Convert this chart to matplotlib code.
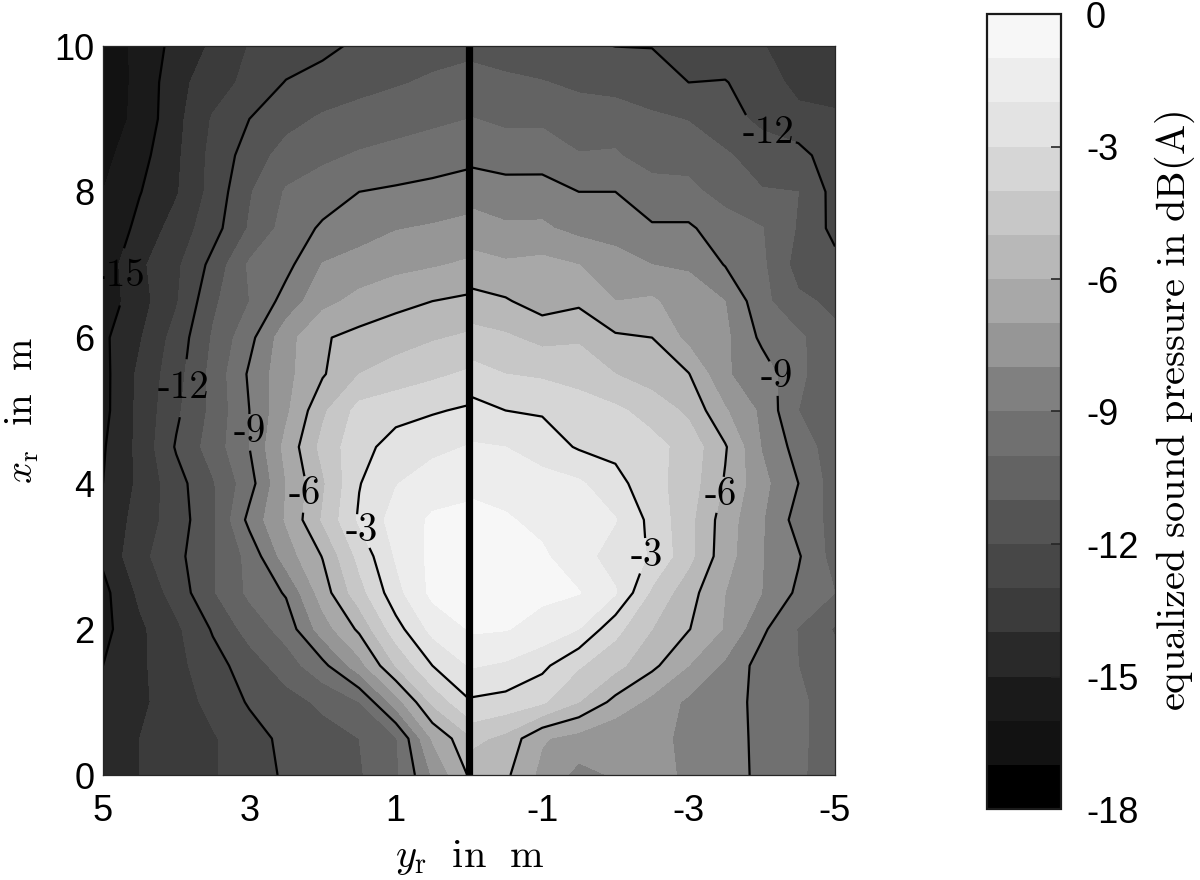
# Equalized sound pressure map, values on a 0.5 m grid
import numpy as np
import matplotlib
matplotlib.use('Agg')
import matplotlib.pyplot as plt
from matplotlib.colors import ListedColormap, BoundaryNorm

plt.rcParams['font.family'] = ['Liberation Sans', 'DejaVu Sans']
plt.rcParams['mathtext.fontset'] = 'cm'

# receiver positions in m
x_r = [0, 0.5, 1, 1.5, 2, 2.5, 3, 3.5, 4, 4.5, 5, 5.5, 6, 6.5, 7, 7.5, 8, 8.5, 9, 9.5, 10]
y_left = [5, 4.5, 4, 3.5, 3, 2.5, 2, 1.5, 1, 0.5, 0]
y_right = [0, -0.5, -1, -1.5, -2, -2.5, -3, -3.5, -4, -4.5, -5]

# dB(A) for y_r > 0, one row per x_r
spl_left = [
    [-14.4, -14.0, -13.4, -13.1, -12.5, -11.85, -11.5, -11.1, -10.2, -7.9, -5.9],
    [-14.5, -14.0, -13.5, -13.1, -12.4, -11.75, -11.4, -11.0, -10.1, -6.9, -5.2],
    [-14.6, -14.2, -13.5, -12.7, -11.9, -11.4, -10.8, -10.0, -7.5, -4.8, -3.1],
    [-15.0, -14.2, -13.3, -12.4, -11.5, -10.5, -9.3, -7.4, -4.95, -3.0, -1.95],
    [-15.3, -14.2, -13.2, -11.9, -10.6, -9.6, -7.5, -5.8, -3.4, -1.7, -0.95],
    [-15.3, -13.8, -12.6, -11.1, -9.8, -8.9, -6.5, -4.4, -2.35, -0.75, -0.65],
    [-14.8, -13.3, -12.3, -11.1, -9.7, -7.5, -5.95, -3.7, -1.9, -0.75, -0.6],
    [-14.8, -13.6, -12.5, -11.2, -8.7, -6.9, -4.9, -2.85, -1.6, -0.85, -0.75],
    [-15.0, -13.8, -12.4, -11.1, -9.4, -7.0, -5.15, -3.05, -2.05, -1.5, -1.25],
    [-15.1, -13.75, -11.9, -10.55, -9.0, -6.7, -4.7, -3.3, -2.65, -2.25, -1.95],
    [-15.3, -13.75, -12.2, -10.75, -9.0, -7.2, -5.2, -3.65, -3.3, -3.1, -2.85],
    [-15.3, -13.8, -12.4, -10.7, -8.85, -7.3, -6.1, -5.0, -4.6, -4.2, -3.85],
    [-15.2, -14.1, -12.6, -10.9, -9.3, -7.4, -6.1, -5.7, -5.4, -5.1, -4.85],
    [-15.6, -14.4, -13.1, -11.2, -10.0, -8.6, -7.3, -6.7, -6.3, -6.0, -5.8],
    [-15.6, -14.2, -13.2, -11.7, -9.85, -9.3, -7.95, -7.6, -7.3, -7.1, -6.85],
    [-15.9, -14.7, -13.6, -12.4, -10.9, -9.6, -8.85, -8.45, -8.05, -7.9, -7.7],
    [-16.0, -15.05, -14.1, -12.65, -11.1, -9.9, -9.5, -9.0, -8.85, -8.7, -8.5],
    [-16.3, -15.35, -14.2, -12.7, -11.55, -10.6, -10.2, -9.9, -9.7, -9.5, -9.3],
    [-16.6, -15.7, -14.3, -12.9, -12.0, -11.35, -10.85, -10.6, -10.4, -10.2, -10.0],
    [-16.5, -15.8, -14.3, -13.5, -12.7, -11.95, -11.7, -11.35, -11.1, -10.85, -10.6],
    [-16.6, -15.75, -14.65, -13.85, -12.95, -12.6, -12.2, -11.85, -11.6, -11.4, -11.3],
]

# dB(A) for y_r < 0, one row per x_r
spl_right = [
    [-5.7, -5.8, -7.3, -8.3, -7.9, -7.6, -8.2, -8.6, -9.2, -9.85, -10.5],
    [-4.65, -5.3, -6.9, -7.4, -7.9, -7.75, -8.2, -8.65, -9.2, -9.85, -10.4],
    [-3.15, -3.35, -3.85, -5.0, -6.3, -7.3, -8.2, -8.7, -9.2, -9.8, -10.5],
    [-1.9, -2.15, -2.75, -3.9, -4.7, -5.75, -7.0, -8.2, -9.4, -10.0, -10.6],
    [-0.85, -0.95, -1.35, -2.0, -3.7, -5.0, -5.95, -7.1, -8.8, -10.05, -11.1],
    [-0.6, -0.65, -0.8, -0.95, -1.9, -4.2, -5.6, -7.0, -8.0, -9.2, -10.0],
    [-0.6, -0.7, -0.85, -1.6, -2.45, -3.1, -4.7, -6.6, -7.95, -8.9, -10.4],
    [-0.7, -0.9, -1.25, -1.6, -1.95, -3.3, -4.7, -6.5, -7.9, -9.4, -10.3],
    [-1.2, -1.35, -1.6, -1.85, -2.65, -3.65, -4.5, -6.1, -7.7, -9.0, -10.5],
    [-1.9, -2.0, -2.5, -3.1, -3.3, -3.65, -4.4, -5.9, -8.05, -9.4, -10.6],
    [-2.6, -3.0, -3.1, -3.3, -3.8, -4.4, -5.2, -6.9, -8.2, -10.0, -10.7],
    [-3.6, -4.0, -4.15, -4.55, -5.0, -5.5, -5.95, -7.9, -8.5, -9.7, -11.0],
    [-4.6, -4.85, -5.3, -5.1, -5.85, -6.0, -7.3, -7.8, -9.2, -9.8, -10.8],
    [-5.65, -5.9, -6.45, -6.2, -7.0, -6.85, -7.6, -8.0, -9.7, -10.8, -11.2],
    [-6.6, -6.85, -6.7, -7.0, -7.75, -8.0, -8.1, -9.05, -9.8, -11.4, -11.7],
    [-7.55, -7.85, -7.85, -8.3, -8.25, -8.9, -8.85, -9.55, -9.95, -11.1, -12.3],
    [-8.35, -8.6, -8.5, -9.0, -9.0, -9.5, -9.75, -10.35, -10.95, -11.0, -12.35],
    [-9.3, -9.45, -9.55, -9.95, -9.9, -10.5, -10.35, -10.9, -11.35, -11.65, -12.6],
    [-9.95, -10.2, -10.15, -10.5, -10.45, -10.8, -11.05, -11.5, -12.3, -12.7, -12.8],
    [-10.6, -10.8, -10.95, -11.2, -11.4, -11.7, -12.0, -11.95, -12.5, -13.3, -13.5],
    [-11.3, -11.5, -11.7, -11.85, -12.01, -12.02, -12.3, -12.6, -12.95, -13.4, -13.4],
]

band_levels = list(range(-18, 1))
line_levels = [-15, -12, -9, -6, -3]
cbar_ticks = [-18, -15, -12, -9, -6, -3, 0]
x_ticks = [5, 3, 1, -1, -3, -5]
y_ticks = [0, 2, 4, 6, 8, 10]
grays = [0.0, 0.07, 0.10, 0.16, 0.23, 0.28, 0.33, 0.39, 0.44, 0.50, 0.59,
         0.66, 0.72, 0.78, 0.84, 0.89, 0.93, 0.97]

cmap = ListedColormap([(g, g, g) for g in grays])
norm = BoundaryNorm(band_levels, cmap.N)


def label_fmt(v):
    return '%d' % v


fig = plt.figure(figsize=(12, 8.8), dpi=100)
ax = fig.add_axes([103 / 1200, 1 - 775 / 880, 732 / 1200, 729 / 880])

# the two halves are separate measurements, the wall at y_r = 0 splits them
cf = ax.contourf(y_left, x_r, np.array(spl_left), levels=band_levels, cmap=cmap, norm=norm)
ax.contourf(y_right, x_r, np.array(spl_right), levels=band_levels, cmap=cmap, norm=norm)
cl = ax.contour(y_left, x_r, np.array(spl_left), levels=line_levels, colors='k',
                linewidths=1.6, linestyles='solid')
cr = ax.contour(y_right, x_r, np.array(spl_right), levels=line_levels, colors='k',
                linewidths=1.6, linestyles='solid')

label_font = 'cmr10'
tl = ax.clabel(cl, fmt=label_fmt, fontsize=28, inline=True, inline_spacing=1,
               manual=[(4.6, 6.85), (3.85, 5.3), (3.0, 4.7), (2.25, 3.85), (1.45, 3.35)])
tr = ax.clabel(cr, fmt=label_fmt, fontsize=28, inline=True, inline_spacing=1,
               manual=[(-4.05, 8.7), (-4.15, 5.45), (-3.4, 3.85), (-2.45, 3.0)])
for t in list(tl) + list(tr):
    t.set_family(label_font)
    t.set_rotation(0)

ax.axvline(0, color='k', linewidth=5.2)

ax.set_xlim(5, -5)
ax.set_ylim(0, 10)
ax.set_xticks(x_ticks)
ax.set_xticklabels([str(v) for v in x_ticks])
ax.set_yticks(y_ticks)
ax.tick_params(length=0, labelsize=26)
ax.tick_params(axis='x', pad=14)
ax.tick_params(axis='y', pad=6)
for s in ax.spines.values():
    s.set_linewidth(0.9)
    s.set_color('#262626')
ax.set_xlabel(r'$y_{\mathrm{r}}\ \ \mathrm{in\ \ m}$', fontsize=29, labelpad=6)
ax.set_ylabel(r'$x_{\mathrm{r}}\ \ \mathrm{in\ \ m}$', fontsize=28, labelpad=10)

cax = fig.add_axes([987 / 1200, 1 - 809 / 880, 74 / 1200, 795 / 880])
cb = fig.colorbar(cf, cax=cax, ticks=cbar_ticks, spacing='uniform')
cb.ax.minorticks_off()
cb.ax.set_yticklabels([str(v) for v in cbar_ticks])
cb.ax.tick_params(direction='in', length=7, width=1.2, labelsize=26, pad=18, color='#262626')
cb.outline.set_linewidth(1.6)
cb.outline.set_edgecolor('#1a1a1a')
cb.set_label(r'$\mathrm{equalized\ sound\ pressure\ in\ dB(A)}$', fontsize=29, labelpad=10)

fig.savefig('out.png', dpi=100)
